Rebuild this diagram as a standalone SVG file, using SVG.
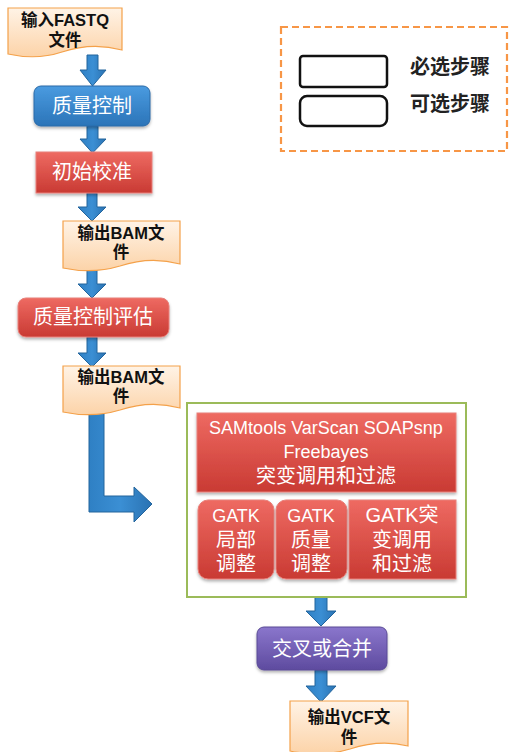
<svg xmlns="http://www.w3.org/2000/svg" width="511" height="752" viewBox="0 0 511 752">
  <defs>
    <linearGradient id="gDoc" x1="0" y1="0" x2="0" y2="1">
      <stop offset="0" stop-color="#fff3e6"/>
      <stop offset="1" stop-color="#fcd3a8"/>
    </linearGradient>
    <linearGradient id="gBlue" x1="0" y1="0" x2="0" y2="1">
      <stop offset="0" stop-color="#4a9be0"/>
      <stop offset="1" stop-color="#2b74b8"/>
    </linearGradient>
    <linearGradient id="gRed" x1="0" y1="0" x2="0" y2="1">
      <stop offset="0" stop-color="#ee6a62"/>
      <stop offset="1" stop-color="#c93a33"/>
    </linearGradient>
    <linearGradient id="gPurple" x1="0" y1="0" x2="0" y2="1">
      <stop offset="0" stop-color="#8a76cc"/>
      <stop offset="1" stop-color="#5e4b9f"/>
    </linearGradient>
    <linearGradient id="gArrow" x1="0" y1="0" x2="1" y2="0">
      <stop offset="0" stop-color="#2f80c4"/>
      <stop offset="0.5" stop-color="#3b8fd4"/>
      <stop offset="1" stop-color="#2a72b2"/>
    </linearGradient>
    <filter id="shadow" x="-10%" y="-10%" width="120%" height="130%">
      <feDropShadow dx="0" dy="2" stdDeviation="1.5" flood-color="#000" flood-opacity="0.3"/>
    </filter>
  </defs>
  <style>
    .doc { fill: url(#gDoc); stroke: #f4a14a; stroke-width: 1.2; }
    .blue { fill: url(#gBlue); stroke: #2a6aa8; stroke-width: 1; filter: url(#shadow); }
    .red { fill: url(#gRed); stroke: #e8807a; stroke-width: 1; filter: url(#shadow); }
    .purple { fill: url(#gPurple); stroke: #5a4a96; stroke-width: 1; filter: url(#shadow); }
    .arrow { fill: url(#gArrow); stroke: #23649c; stroke-width: 1; }
    .dt { font-family: "Liberation Sans", "Noto Sans CJK SC", sans-serif; font-weight: bold; font-size: 16.5px; fill: #111; text-anchor: middle; }
    .wt { font-family: "Liberation Sans", "Noto Sans CJK SC", sans-serif; font-size: 20px; fill: #fff; text-anchor: middle; }
    .wts { font-family: "Liberation Sans", "Noto Sans CJK SC", sans-serif; font-size: 18px; fill: #fff; text-anchor: middle; }
    .lt { font-family: "Liberation Sans", "Noto Sans CJK SC", sans-serif; font-weight: bold; font-size: 20px; fill: #222; }
  </style>

  <rect width="511" height="752" fill="#fff"/>

  <!-- connectors -->
  <g id="connectors">
    <polygon class="arrow" points="87,55 98,55 98,70 106,70 92.5,86 80,70 87,70"/>
    <polygon class="arrow" points="87,126 98,126 98,139 106,139 92.5,153 80,139 87,139"/>
    <polygon class="arrow" points="87,193 97,193 97,207 106,207 92,221 78,207 87,207"/>
    <polygon class="arrow" points="87,268 97,268 97,284 106,284 92,298 78,284 87,284"/>
    <polygon class="arrow" points="87,337 97,337 97,353 106,353 92,367 78,353 87,353"/>
    <polygon class="arrow" points="89,410 104,410 104,496 134,496 134,487 152,504 134,522 134,512 89,512"/>
    <polygon class="arrow" points="315,597 327,597 327,611 336,611 321,626 306,611 315,611"/>
    <polygon class="arrow" points="315,670 327,670 327,686 336,686 321,702 306,686 315,686"/>
  </g>

  <!-- legend -->
  <g id="legend">
    <rect x="281" y="27" width="226" height="124" fill="none" stroke="#f79646" stroke-width="2.2" stroke-dasharray="7,4"/>
    <rect x="300" y="56" width="87" height="31" rx="3" fill="#fff" stroke="#111" stroke-width="2.5"/>
    <rect x="300" y="96" width="87" height="30" rx="7" fill="#fff" stroke="#111" stroke-width="2.5"/>
    <text class="lt" x="410" y="74">必选步骤</text>
    <text class="lt" x="410" y="111">可选步骤</text>
  </g>

  <g id="input-fastq">
    <path class="doc" d="M8,8 H122 V50 C100,44 80,46 62,52 C44,58 26,58 8,54 Z"/>
    <text class="dt" x="65" y="26">输入FASTQ</text>
    <text class="dt" x="65" y="46">文件</text>
  </g>

  <g id="quality-control">
    <rect class="blue" x="34" y="86" width="116" height="40" rx="7"/>
    <text class="wt" x="92" y="113">质量控制</text>
  </g>

  <g id="initial-calibration">
    <rect class="red" x="36" y="152" width="116" height="41"/>
    <text class="wt" x="92" y="179">初始校准</text>
  </g>

  <g id="output-bam-1">
    <path class="doc" d="M63,221 H180 V264 C158,258 138,260 120,266 C100,272 82,272 63,268 Z"/>
    <text class="dt" x="121" y="239">输出BAM文</text>
    <text class="dt" x="121" y="258">件</text>
  </g>

  <g id="quality-evaluation">
    <rect class="red" x="18" y="298" width="151" height="39" rx="8"/>
    <text class="wt" x="93" y="324">质量控制评估</text>
  </g>

  <g id="output-bam-2">
    <path class="doc" d="M63,366 H180 V408 C158,402 138,404 120,410 C100,416 82,416 63,412 Z"/>
    <text class="dt" x="121" y="383">输出BAM文</text>
    <text class="dt" x="121" y="402">件</text>
  </g>

  <g id="variant-tools">
    <rect x="187" y="403" width="279" height="194" fill="#fff" stroke="#9bbb59" stroke-width="2"/>
    <g id="generic-callers">
      <rect class="red" x="197" y="413" width="259" height="79"/>
      <text class="wts" x="326" y="434">SAMtools  VarScan SOAPsnp</text>
      <text class="wts" x="326" y="458">Freebayes</text>
      <text class="wt" x="326" y="483">突变调用和过滤</text>
    </g>
    <g id="gatk-realign">
      <rect class="red" x="198" y="500" width="76" height="79" rx="10"/>
      <text class="wts" x="236" y="522">GATK</text>
      <text class="wt" x="236" y="547">局部</text>
      <text class="wt" x="236" y="571">调整</text>
    </g>
    <g id="gatk-recal">
      <rect class="red" x="276" y="500" width="71" height="79" rx="10"/>
      <text class="wts" x="311" y="522">GATK</text>
      <text class="wt" x="311" y="547">质量</text>
      <text class="wt" x="311" y="571">调整</text>
    </g>
    <g id="gatk-call">
      <rect class="red" x="349" y="500" width="107" height="79"/>
      <text class="wt" x="402" y="522">GATK突</text>
      <text class="wt" x="402" y="547">变调用</text>
      <text class="wt" x="402" y="571">和过滤</text>
    </g>
  </g>

  <g id="intersect-merge">
    <rect class="purple" x="257" y="627" width="130" height="43" rx="7"/>
    <text class="wt" x="322" y="656">交叉或合并</text>
  </g>

  <g id="output-vcf">
    <path class="doc" d="M290,701 H408 V746 C388,741 368,743 350,749 C330,755 310,755 290,751 Z"/>
    <text class="dt" x="349" y="723">输出VCF文</text>
    <text class="dt" x="349" y="743">件</text>
  </g>
</svg>
